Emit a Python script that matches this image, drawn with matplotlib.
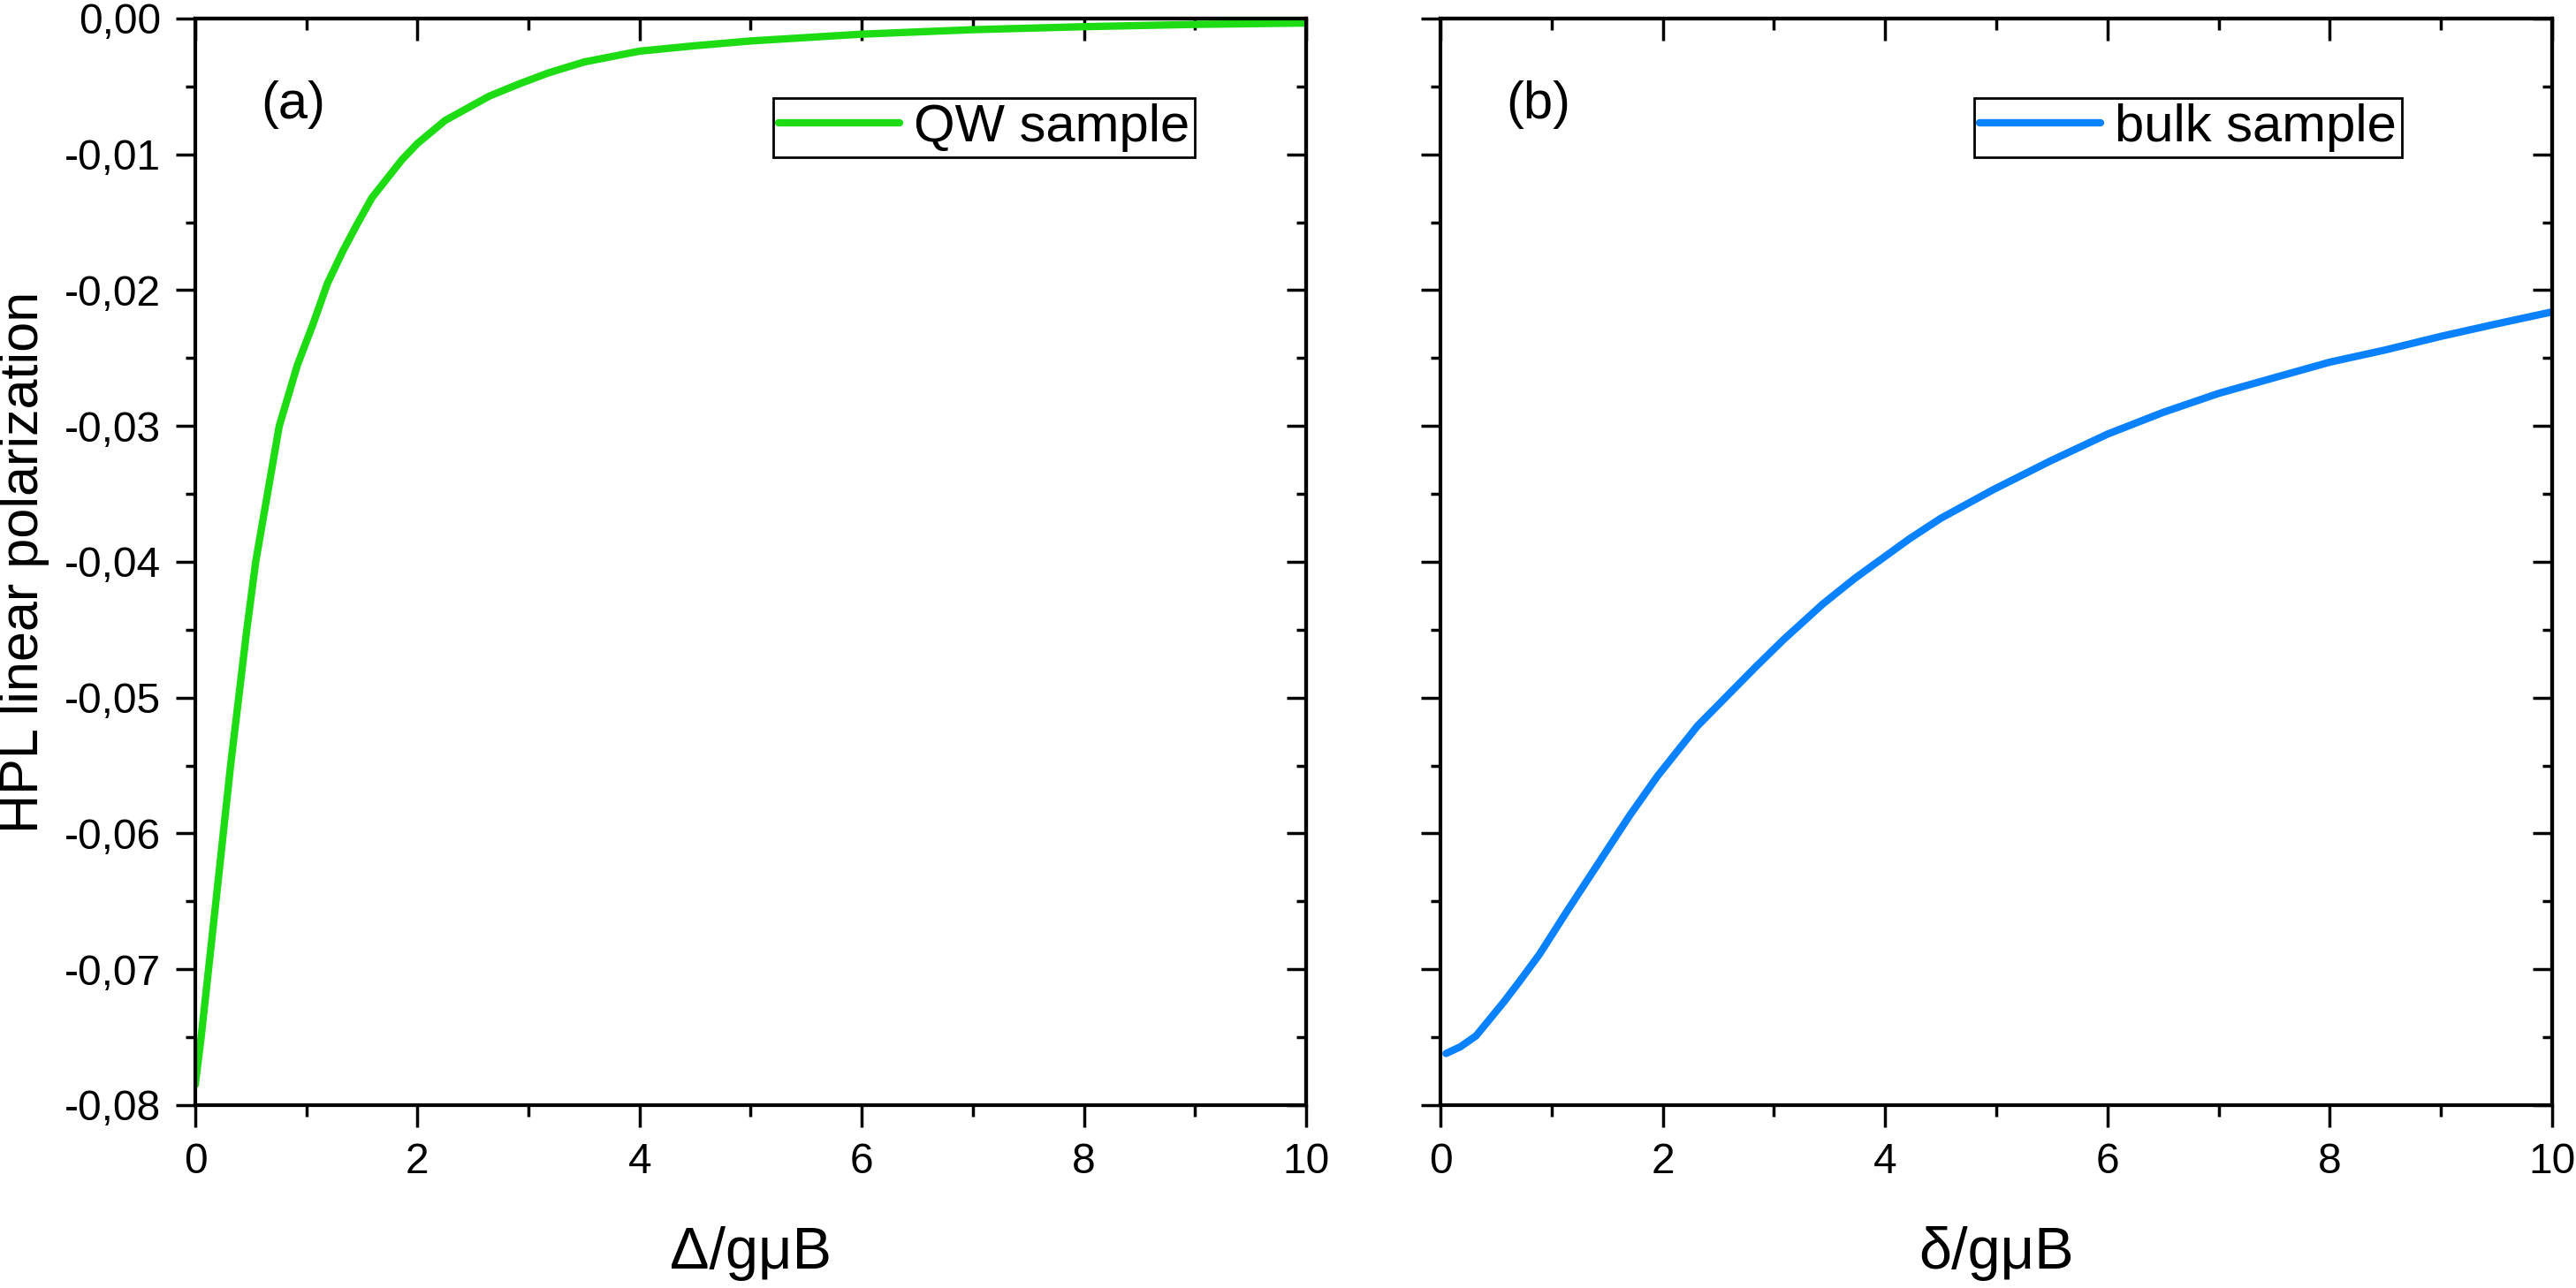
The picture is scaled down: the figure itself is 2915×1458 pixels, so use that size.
import matplotlib
matplotlib.use("Agg")
import matplotlib.pyplot as plt
from matplotlib.ticker import MultipleLocator, FuncFormatter

plt.rcParams['font.family'] = ['Liberation Sans', 'DejaVu Sans']

# QW sample (panel a)
qw_x = [0.0, 0.053, 0.186, 0.318, 0.464, 0.544, 0.65, 0.756, 0.92, 1.06, 1.19, 1.33,
        1.46, 1.59, 1.86, 2.0, 2.25, 2.65, 2.92, 3.18, 3.5, 4.0, 4.5, 5.0, 6.0, 7.0,
        8.0, 9.0, 10.0]
qw_y = [-0.0785, -0.075, -0.065, -0.055, -0.045, -0.040, -0.035, -0.030, -0.0255,
        -0.0225, -0.0195, -0.0171, -0.0151, -0.0132, -0.0104, -0.0092, -0.0075,
        -0.0057, -0.0048, -0.0040, -0.0032, -0.0024, -0.0020, -0.00165, -0.00115,
        -0.00082, -0.0006, -0.00043, -0.00033]

# bulk sample (panel b)
bulk_x = [0.05, 0.18, 0.32, 0.57, 0.71, 0.89, 1.14, 1.42, 1.70, 1.95, 2.31, 2.84, 3.09,
          3.44, 3.73, 4.0, 4.22, 4.5, 4.97, 5.48, 6.0, 6.5, 7.0, 7.52, 8.0, 8.5, 9.0,
          9.49, 10.0]
bulk_y = [-0.0762, -0.0757, -0.0749, -0.0724, -0.0709, -0.0689, -0.0657, -0.0622,
          -0.0587, -0.0558, -0.0521, -0.0477, -0.0457, -0.0431, -0.0412, -0.0396,
          -0.0383, -0.0368, -0.0347, -0.0326, -0.0306, -0.0290, -0.0276, -0.0264,
          -0.0253, -0.0244, -0.0234, -0.0225, -0.0216]

panel_labels = ["(a)", "(b)"]
legend_labels = ["QW sample", "bulk sample"]
x_labels = ["\u0394/g\u03bcB", "\u03b4/g\u03bcB"]
colors = ["#1EDC14", "#0A82FF"]

fig = plt.figure(figsize=(29.15, 14.58), dpi=100)
ax1 = fig.add_axes([0.0758, 0.142, 0.4312, 0.8436])
ax2 = fig.add_axes([0.5592, 0.142, 0.4315, 0.8436])

tick_fs = 34.5
big_fs = 43


def y_fmt(v, pos):
    s = "%.2f" % v
    if s == "-0.00":
        s = "0.00"
    return s.replace(".", ",")


for i, ax in enumerate([ax1, ax2]):
    xs, ys = (qw_x, qw_y) if i == 0 else (bulk_x, bulk_y)
    ax.plot(xs, ys, color=colors[i], lw=6, solid_capstyle='round',
            solid_joinstyle='round', label=legend_labels[i])
    ax.set_xlim(0, 10)
    ax.set_ylim(-0.08, 0)
    for sp in ax.spines.values():
        sp.set_linewidth(3)

    ax.xaxis.set_major_locator(MultipleLocator(2))
    ax.xaxis.set_minor_locator(MultipleLocator(1))
    ax.yaxis.set_major_locator(MultipleLocator(0.01))
    ax.yaxis.set_minor_locator(MultipleLocator(0.005))
    ax.xaxis.set_major_formatter(FuncFormatter(lambda v, p: "%d" % v))
    ax.yaxis.set_major_formatter(FuncFormatter(y_fmt))

    ax.tick_params(axis='x', which='major', direction='out', length=18, width=2.5,
                   labelsize=tick_fs, pad=12)
    ax.tick_params(axis='x', which='minor', direction='out', length=9, width=2.5)
    ax.tick_params(axis='y', which='major', direction='out', length=16, width=2.5,
                   labelsize=tick_fs, pad=12)
    ax.tick_params(axis='y', which='minor', direction='out', length=8, width=2.5)
    if i == 1:
        ax.tick_params(axis='y', labelleft=False)

    # inward ticks on top and right
    top = ax.secondary_xaxis('top')
    top.xaxis.set_major_locator(MultipleLocator(2))
    top.xaxis.set_minor_locator(MultipleLocator(1))
    top.tick_params(which='major', direction='in', length=18, width=2.5, labeltop=False)
    top.tick_params(which='minor', direction='in', length=9, width=2.5)
    top.spines['top'].set_linewidth(3)
    right = ax.secondary_yaxis('right')
    right.yaxis.set_major_locator(MultipleLocator(0.01))
    right.yaxis.set_minor_locator(MultipleLocator(0.005))
    right.tick_params(which='major', direction='in', length=16, width=2.5, labelright=False)
    right.tick_params(which='minor', direction='in', length=8, width=2.5)
    right.spines['right'].set_linewidth(3)

    ax.set_xlabel(x_labels[i], fontsize=48, labelpad=36)
    ax.text(0.088, 0.921, panel_labels[i], transform=ax.transAxes,
            fontsize=big_fs, ha='center', va='center')

ax1.set_ylabel("HPL linear polarization", fontsize=44, labelpad=12)

leg_x = [0.52, 0.48]
for i, ax in enumerate([ax1, ax2]):
    leg = ax.legend(loc='upper left', bbox_to_anchor=(leg_x[i], 0.927),
                    fontsize=big_fs, frameon=True, fancybox=False, edgecolor='black',
                    framealpha=1, borderpad=0.1, borderaxespad=0, handlelength=2.3,
                    handletextpad=0.27)
    leg.get_frame().set_linewidth(2)

fig.savefig("out.png", dpi=100)
